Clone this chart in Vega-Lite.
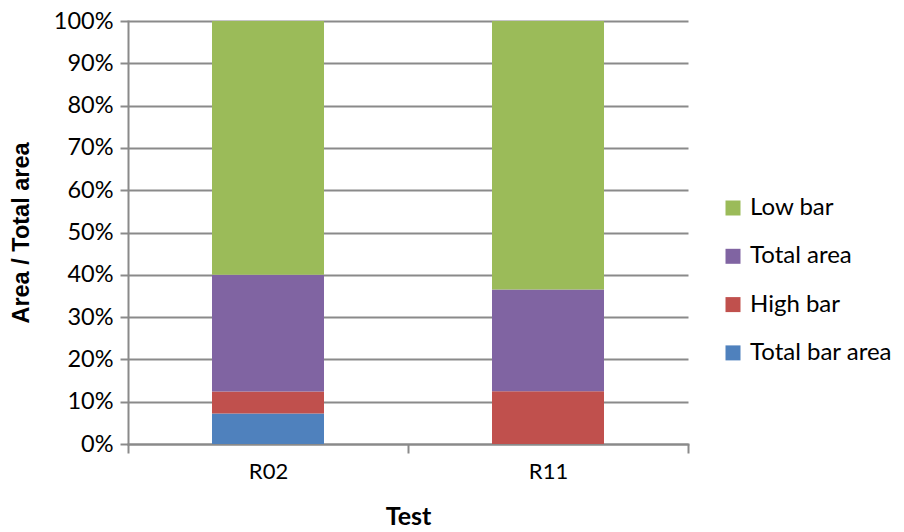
{
  "$schema": "https://vega.github.io/schema/vega-lite/v6.json",
  "width": 560,
  "height": 423,
  "autosize": {"type": "none"},
  "padding": {"left": 128, "top": 21, "right": 216, "bottom": 88},
  "background": "white",
  "data": {
    "values": [
      {"test": "R02", "series": "Total bar area", "share": 0.072},
      {"test": "R02", "series": "High bar", "share": 0.052},
      {"test": "R02", "series": "Total area", "share": 0.276},
      {"test": "R02", "series": "Low bar", "share": 0.600},
      {"test": "R11", "series": "Total bar area", "share": 0.0},
      {"test": "R11", "series": "High bar", "share": 0.125},
      {"test": "R11", "series": "Total area", "share": 0.240},
      {"test": "R11", "series": "Low bar", "share": 0.635}
    ]
  },
  "transform": [
    {"calculate": "indexof(['Total bar area', 'High bar', 'Total area', 'Low bar'], datum.series)", "as": "stack_rank"}
  ],
  "mark": {"type": "bar", "width": {"band": 0.4}},
  "encoding": {
    "x": {
      "field": "test",
      "type": "nominal",
      "scale": {"paddingInner": 0, "paddingOuter": 0},
      "axis": {
        "title": "Test",
        "labelAngle": 0,
        "tickBand": "extent",
        "tickSize": 9,
        "tickWidth": 2,
        "tickColor": "#8a8a8a",
        "domainColor": "#8a8a8a",
        "domainWidth": 2,
        "labelFont": "Lato",
        "labelFontSize": 22,
        "labelColor": "#000000",
        "labelPadding": 8,
        "titleFont": "Lato",
        "titleFontSize": 25,
        "titleFontWeight": "bold",
        "titleColor": "#000000",
        "titlePadding": 22
      }
    },
    "y": {
      "field": "share",
      "type": "quantitative",
      "stack": "zero",
      "scale": {"domain": [0, 1], "nice": false},
      "axis": {
        "title": "Area / Total area",
        "format": ".0%",
        "values": [0, 0.1, 0.2, 0.3, 0.4, 0.5, 0.6, 0.7, 0.8, 0.9, 1],
        "tickSize": 8,
        "tickWidth": 2,
        "tickColor": "#8a8a8a",
        "domainColor": "#8a8a8a",
        "domainWidth": 2,
        "grid": true,
        "gridColor": "#8a8a8a",
        "gridWidth": 2,
        "labelFont": "Lato",
        "labelFontSize": 23.5,
        "labelColor": "#000000",
        "labelPadding": 7,
        "titleFont": "Liberation Sans",
        "titleFontSize": 23.5,
        "titleFontWeight": "bold",
        "titleColor": "#000000",
        "titlePadding": 20
      }
    },
    "order": {"field": "stack_rank", "type": "quantitative", "sort": "ascending"},
    "color": {
      "field": "series",
      "type": "nominal",
      "scale": {
        "domain": ["Low bar", "Total area", "High bar", "Total bar area"],
        "range": ["#9bbb59", "#8064a2", "#c0504d", "#4f81bd"]
      },
      "legend": {
        "title": null,
        "orient": "none",
        "legendX": 593,
        "legendY": 175,
        "symbolType": "square",
        "symbolSize": 225,
        "symbolStrokeWidth": 0,
        "symbolOpacity": 1,
        "labelFont": "Lato",
        "labelFontSize": 24,
        "labelColor": "#000000",
        "labelOffset": 5,
        "rowPadding": 24.3
      }
    }
  },
  "config": {
    "view": {"stroke": null},
    "axis": {"domainCap": "square"}
  }
}
